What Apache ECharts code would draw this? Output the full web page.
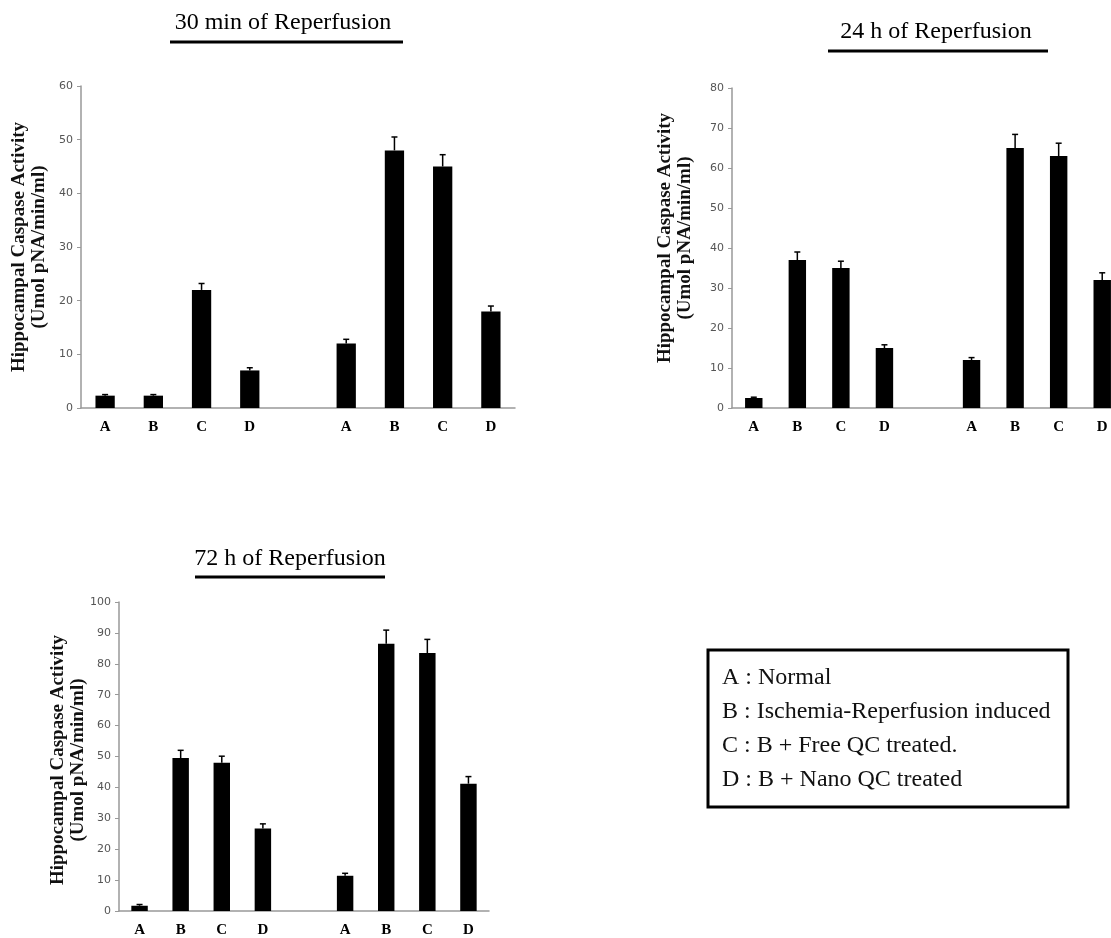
<!DOCTYPE html>
<html><head><meta charset="utf-8">
<script src="https://cdn.jsdelivr.net/npm/echarts@6/dist/echarts.min.js"></script>
<style>html,body{margin:0;padding:0;background:#fff;overflow:hidden}#c{width:1126px;height:938px}</style>
</head><body><div id="c"></div>
<script>
const categories = ['A','B','C','D','','A','B','C','D'];
const titles = ['30 min of Reperfusion','24 h of Reperfusion','72 h of Reperfusion'];
const yName1 = 'Hippocampal Caspase Activity';
const yName2 = '(Umol pNA/min/ml)';
const values30m = [2.3, 2.3, 22, 7, null, 12, 48, 45, 18];
const errors30m = [0.2, 0.2, 1.2, 0.5, null, 0.8, 2.5, 2.2, 1.0];
const values24h = [2.5, 37, 35, 15, null, 12, 65, 63, 32];
const errors24h = [0.2, 2, 1.7, 0.8, null, 0.6, 3.4, 3.2, 1.8];
const values72h = [1.7, 49.5, 48, 26.7, null, 11.4, 86.5, 83.5, 41.2];
const errors72h = [0.4, 2.5, 2.1, 1.5, null, 0.8, 4.4, 4.4, 2.3];
const yMax = [60, 80, 100];
const legendLines = ['A : Normal','B : Ischemia-Reperfusion induced','C : B + Free QC treated.','D : B + Nano QC treated'];

const serif = '"Liberation Serif", "DejaVu Serif", serif';
const chart = echarts.init(document.getElementById('c'));
const grids = [
  {left: 81, width: 434, top: 86, height: 322},
  {left: 732, width: 392, top: 88, height: 320},
  {left: 119, width: 370, top: 602, height: 309}
];
const valueSets = [values30m, values24h, values72h];
const errorSets = [errors30m, errors24h, errors72h];

const xAxes = grids.map((g, i) => ({
  type: 'category', gridIndex: i, data: categories,
  axisLine: {lineStyle: {color: '#999', width: 1.5}},
  axisTick: {show: false},
  axisLabel: {color: '#000', fontFamily: serif, fontWeight: 'bold', fontSize: 15, margin: 12, interval: 0}
}));
const yAxes = grids.map((g, i) => ({
  type: 'value', gridIndex: i, min: 0, max: yMax[i], interval: 10,
  splitLine: {show: false},
  axisLine: {show: true, lineStyle: {color: '#999', width: 1.5}},
  axisTick: {show: true, length: 4, lineStyle: {color: '#999'}},
  axisLabel: {color: '#555', fontSize: 11, margin: 8, fontFamily: '"DejaVu Sans", sans-serif'}
}));

const series = [];
valueSets.forEach((vals, i) => {
  series.push({
    type: 'bar', xAxisIndex: i, yAxisIndex: i, barWidth: '40%',
    itemStyle: {color: '#000'},
    data: vals.map(v => v === null ? '-' : v)
  });
  series.push({
    type: 'custom', xAxisIndex: i, yAxisIndex: i,
    data: vals.map((v, k) => v === null ? null : [k, v, errorSets[i][k]]).filter(d => d),
    renderItem: function (params, api) {
      const x = api.value(0), v = api.value(1), e = api.value(2);
      const p0 = api.coord([x, v]);
      const p1 = api.coord([x, v + e]);
      const half = 3;
      return {
        type: 'group',
        children: [
          {type: 'line', shape: {x1: p0[0], y1: p0[1], x2: p1[0], y2: p1[1]}, style: {stroke: '#000', lineWidth: 1.5}},
          {type: 'line', shape: {x1: p1[0] - half, y1: p1[1], x2: p1[0] + half, y2: p1[1]}, style: {stroke: '#000', lineWidth: 1.5}}
        ]
      };
    },
    z: 3
  });
});

const graphic = [];
const titlePos = [[283, 23, 42, 170, 403], [936, 32, 51, 828, 1048], [290, 559, 577, 195, 385]];
titles.forEach((t, i) => {
  const [cx, cy, uy, ux1, ux2] = titlePos[i];
  graphic.push({type: 'text', x: cx, y: cy, style: {text: t, font: '24px ' + serif, fill: '#000', textAlign: 'center', textVerticalAlign: 'middle'}});
  graphic.push({type: 'line', shape: {x1: ux1, y1: uy, x2: ux2, y2: uy}, style: {stroke: '#000', lineWidth: 3}});
});
const namePos = [[29, 247], [675, 238], [68, 760]];
namePos.forEach(([x, y]) => {
  graphic.push({type: 'text', x: x, y: y, rotation: Math.PI / 2,
    style: {text: yName1 + '\n' + yName2, font: 'bold 19px ' + serif, fill: '#111', textAlign: 'center', textVerticalAlign: 'middle', lineHeight: 20}});
});
graphic.push({type: 'rect', shape: {x: 708, y: 650, width: 360, height: 157}, style: {fill: '#fff', stroke: '#000', lineWidth: 3}});
legendLines.forEach((t, k) => {
  graphic.push({type: 'text', x: 722, y: 678 + k * 34, style: {text: t, font: '24px ' + serif, fill: '#111', textVerticalAlign: 'middle'}});
});

chart.setOption({
  animation: false,
  backgroundColor: '#fff',
  grid: grids,
  xAxis: xAxes,
  yAxis: yAxes,
  series: series,
  graphic: graphic
});
</script></body></html>
